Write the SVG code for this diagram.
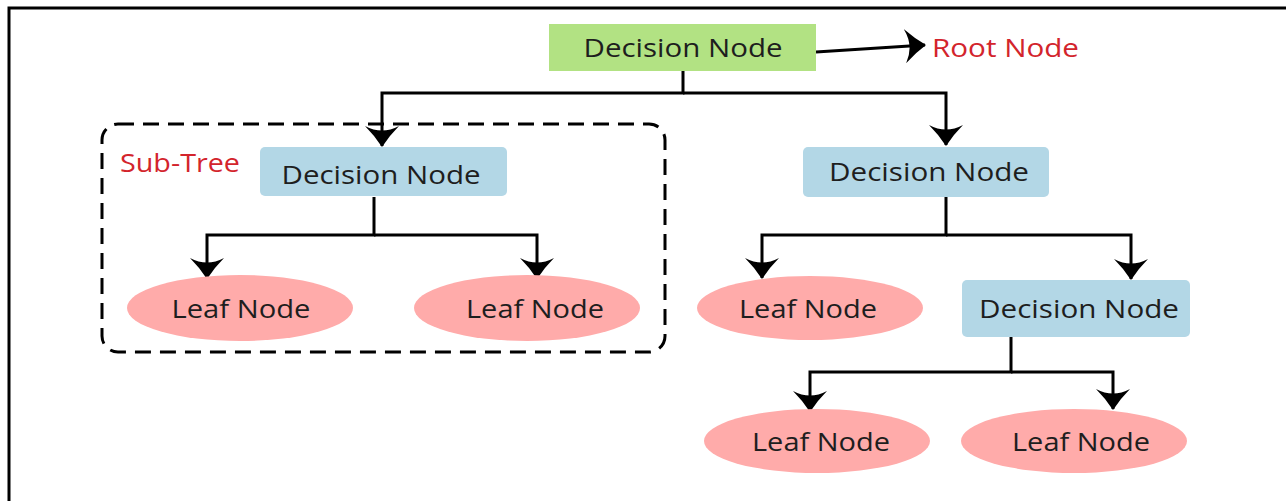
<svg xmlns="http://www.w3.org/2000/svg" width="1286" height="501" viewBox="0 0 1286 501">
<style>
.lbl{font-family:"Open Sans","Liberation Sans",sans-serif;font-size:26px;fill:#1e1e1e;text-anchor:middle;dominant-baseline:central}
.red{font-family:"Open Sans","Liberation Sans",sans-serif;font-size:25px;fill:#d3242c;dominant-baseline:central}
.dec{fill:#b3d7e6}
.leaf{fill:#ffabaa}
.con{fill:none;stroke:#000;stroke-width:3}
</style>
<defs>
<marker id="ah" viewBox="0 0 21 34" refX="20" refY="17" markerWidth="21" markerHeight="34" markerUnits="userSpaceOnUse" orient="auto">
<path d="M0,0 Q10,10 21,17 Q10,24 0,34 Q9,17 0,0 Z" fill="#000"/>
</marker>
</defs>
<rect width="1286" height="501" fill="#fff"/>
<path d="M9,501 V8 H1286" fill="none" stroke="#000" stroke-width="3"/>
<g id="subtree">
<rect x="102" y="124" width="563" height="228" rx="16" fill="none" stroke="#000" stroke-width="3" stroke-dasharray="16,9"/>
<text class="red" x="120" y="162" textLength="120" lengthAdjust="spacingAndGlyphs">Sub-Tree</text>
</g>
<g id="connectors">
<path class="con" d="M816,52 L925,45" marker-end="url(#ah)"/>
<path class="con" d="M683,71 V93 H382 V146" marker-end="url(#ah)"/>
<path class="con" d="M683,93 H946 V145" marker-end="url(#ah)"/>
<path class="con" d="M374,197 V235 H207 V278" marker-end="url(#ah)"/>
<path class="con" d="M374,235 H537 V278" marker-end="url(#ah)"/>
<path class="con" d="M946,197 V235 H762 V278" marker-end="url(#ah)"/>
<path class="con" d="M946,235 H1131 V279" marker-end="url(#ah)"/>
<path class="con" d="M1011,337 V372 H810 V411" marker-end="url(#ah)"/>
<path class="con" d="M1011,372 H1113 V409" marker-end="url(#ah)"/>
</g>
<g id="root">
<rect x="549" y="24" width="267" height="47" fill="#b2e283"/>
<text class="lbl" x="683" y="47" textLength="199" lengthAdjust="spacingAndGlyphs">Decision Node</text>
</g>
<g id="rootlabel">
<text class="red" x="932" y="47" textLength="147" lengthAdjust="spacingAndGlyphs">Root Node</text>
</g>
<g id="dec-left">
<rect class="dec" x="260" y="147" width="247" height="49" rx="5"/>
<text class="lbl" x="381" y="174" textLength="199" lengthAdjust="spacingAndGlyphs">Decision Node</text>
</g>
<g id="dec-right">
<rect class="dec" x="803" y="147" width="246" height="50" rx="5"/>
<text class="lbl" x="929" y="171" textLength="200" lengthAdjust="spacingAndGlyphs">Decision Node</text>
</g>
<g id="leaf1">
<ellipse class="leaf" cx="240" cy="308" rx="113" ry="33"/>
<text class="lbl" x="241" y="308" textLength="139" lengthAdjust="spacingAndGlyphs">Leaf Node</text>
</g>
<g id="leaf2">
<ellipse class="leaf" cx="527" cy="308" rx="113" ry="33"/>
<text class="lbl" x="535" y="308" textLength="138" lengthAdjust="spacingAndGlyphs">Leaf Node</text>
</g>
<g id="leaf3">
<ellipse class="leaf" cx="810" cy="308" rx="113" ry="32"/>
<text class="lbl" x="808" y="308" textLength="138" lengthAdjust="spacingAndGlyphs">Leaf Node</text>
</g>
<g id="dec-lower">
<rect class="dec" x="962" y="280" width="228" height="57" rx="5"/>
<text class="lbl" x="1079" y="308" textLength="200" lengthAdjust="spacingAndGlyphs">Decision Node</text>
</g>
<g id="leaf4">
<ellipse class="leaf" cx="817" cy="441" rx="113" ry="32"/>
<text class="lbl" x="821" y="441" textLength="138" lengthAdjust="spacingAndGlyphs">Leaf Node</text>
</g>
<g id="leaf5">
<ellipse class="leaf" cx="1074" cy="441" rx="113" ry="32"/>
<text class="lbl" x="1081" y="441" textLength="138" lengthAdjust="spacingAndGlyphs">Leaf Node</text>
</g>
</svg>
